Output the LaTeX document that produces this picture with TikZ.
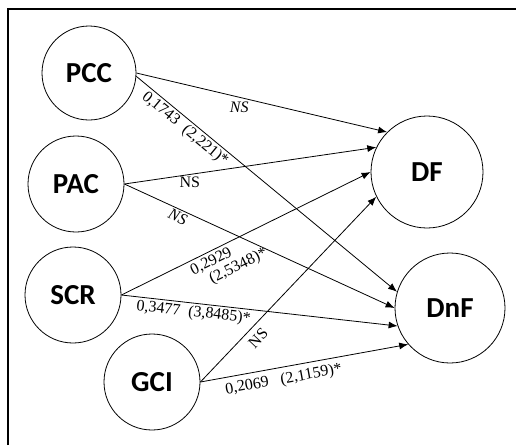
\documentclass[tikz,border=0pt]{standalone}
\usepackage{fontspec}
\setmainfont{Liberation Serif}
\setsansfont{Carlito}
\usetikzlibrary{arrows.meta}

\begin{document}
\begin{tikzpicture}[x=1pt, y=-1pt,
    construct/.style={draw, circle, line width=0.8pt, font=\sffamily\bfseries\fontsize{29}{30}\selectfont},
    path/.style={-{Latex[length=9pt,width=7pt]}, line width=0.8pt},
    coef/.style={font=\fontsize{16}{16}\selectfont, inner sep=1pt}]
  \useasboundingbox (0,0) rectangle (516,445);
  \draw [line width=2pt] (8,445) -- (8,9) -- (516,9);
  % exogenous constructs
  \node [construct, minimum size=94pt] (pcc) at (89,73) {PCC};
  \node [construct, minimum size=96pt] (pac) at (76,184) {PAC};
  \node [construct, minimum size=96pt] (scr) at (73,295) {SCR};
  \node [construct, minimum size=96pt] (gci) at (152,382) {GCI};
  % endogenous constructs
  \node [construct, minimum size=112pt] (df) at (427,172) {DF};
  \node [construct, minimum size=110pt] (dnf) at (450,308) {DnF};
  % paths
  \draw [path] (pcc.east) -- node [coef, pos=0.41, below=3pt] {\textit{NS}} (df.135);
  \draw [path] (pcc.-4) -- node [coef, sloped, pos=0.21, below=1pt] {0,1743\enspace(2,221)*} (dnf.163);
  \draw [path] (pac.east) -- node [coef, pos=0.26, below=1pt] {NS} (df.154);
  \draw [path] (pac.east) -- node [coef, sloped, pos=0.21, below=1pt] {\textit{NS}} (dnf.180);
  \draw [path] (scr.east) -- node [coef, sloped, pos=0.4, below=2pt, align=left] {0,2929\\\hspace{0.8em}(2,5348)*} (df.180);
  \draw [path] (scr.east) -- node [coef, sloped, pos=0.265, below=1pt] {0,3477\enspace(3,8485)*} (dnf.199);
  \draw [path] (gci.east) -- node [coef, sloped, pos=0.28, below=5pt] {NS} (df.206);
  \draw [path] (gci.east) -- node [coef, sloped, pos=0.39, below=4pt] {0,2069\enspace\ (2,1159)*} (dnf.221);
\end{tikzpicture}
\end{document}
